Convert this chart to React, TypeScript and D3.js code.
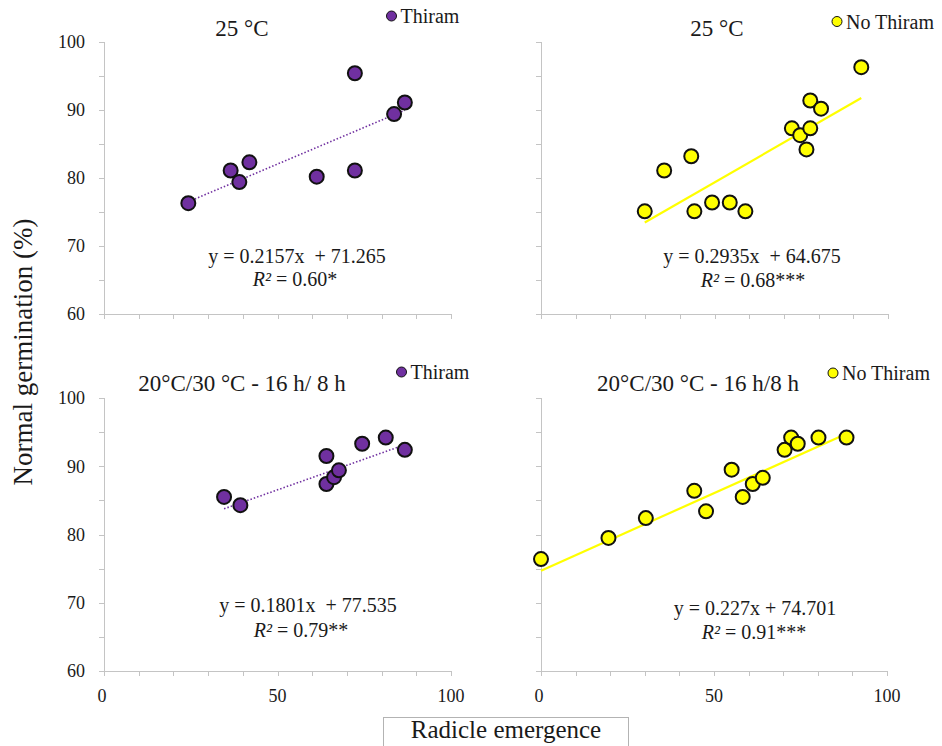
import React from "react";
import * as d3 from "d3";

// ---- Data ----
const thiram25X = [24.3, 36.5, 39.0, 41.9, 61.3, 72.3, 72.3, 83.6, 86.7];
const thiram25Y = [76.3, 81.1, 79.4, 82.3, 80.2, 81.1, 95.4, 89.4, 91.1];

const noThiram25X = [29.9, 35.5, 43.3, 44.2, 49.3, 54.4, 58.9, 72.3, 74.7, 77.6, 76.5, 77.6, 80.7, 92.3];
const noThiram25Y = [75.1, 81.1, 83.2, 75.1, 76.4, 76.4, 75.1, 87.3, 86.3, 87.3, 84.2, 91.4, 90.2, 96.3];

const thiramAltX = [34.6, 39.3, 64.1, 64.1, 66.3, 67.7, 74.4, 81.2, 86.7];
const thiramAltY = [85.5, 84.3, 91.5, 87.4, 88.4, 89.4, 93.3, 94.2, 92.4];

const noThiramAltX = [0, 19.5, 30.3, 44.3, 47.7, 55.1, 58.3, 61.2, 64.1, 70.4, 72.3, 74.2, 80.2, 88.3];
const noThiramAltY = [76.4, 79.5, 82.4, 86.4, 83.4, 89.5, 85.5, 87.4, 88.3, 92.4, 94.2, 93.3, 94.2, 94.2];

const slopes = [0.2157, 0.2935, 0.1801, 0.227];
const intercepts = [71.265, 64.675, 77.535, 74.701];
const eqTexts = ["y = 0.2157x  + 71.265", "y = 0.2935x  + 64.675", "y = 0.1801x  + 77.535", "y = 0.227x + 74.701"];
const r2Texts = [" = 0.60*", " = 0.68***", " = 0.79**", " = 0.91***"];
const titles = ["25 °C", "25 °C", "20°C/30 °C - 16 h/ 8 h", "20°C/30 °C - 16 h/8 h"];
const legendLabels = ["Thiram", "No Thiram", "Thiram", "No Thiram"];

const yTicks = [60, 70, 80, 90, 100];
const xTicks = [0, 50, 100];

// ---- Layout ----
const W = 942, H = 746;
const TXT = { fontFamily: "Liberation Serif" };
const PURPLE = "#7030A0";
const YELLOW = "#FFFF00";
const INK = "#1a1a1a";

type Panel = {
  xs: number[]; ys: number[]; color: string; dotted: boolean;
  x0: number; x1: number; y0: number; y1: number;
  showYLabels: boolean; showXLabels: boolean;
  titleX: number; titleY: number;
  legX: number; legY: number; legBase: number;
  eqX: number; eqY: number; r2X: number; r2Y: number;
};

const panels: Panel[] = [
  { xs: thiram25X, ys: thiram25Y, color: PURPLE, dotted: true, x0: 104, x1: 451, y0: 42, y1: 314,
    showYLabels: true, showXLabels: false, titleX: 242, titleY: 36, legX: 391.5, legY: 16, legBase: 23,
    eqX: 297, eqY: 263, r2X: 295, r2Y: 286 },
  { xs: noThiram25X, ys: noThiram25Y, color: YELLOW, dotted: false, x0: 541, x1: 888, y0: 42, y1: 314,
    showYLabels: false, showXLabels: false, titleX: 717, titleY: 36, legX: 837, legY: 21.5, legBase: 28.5,
    eqX: 752, eqY: 263, r2X: 753, r2Y: 287 },
  { xs: thiramAltX, ys: thiramAltY, color: PURPLE, dotted: true, x0: 104, x1: 451, y0: 398, y1: 671,
    showYLabels: true, showXLabels: true, titleX: 242, titleY: 391, legX: 401.5, legY: 372, legBase: 379,
    eqX: 308, eqY: 612, r2X: 301, r2Y: 637 },
  { xs: noThiramAltX, ys: noThiramAltY, color: YELLOW, dotted: false, x0: 541, x1: 887, y0: 398, y1: 671,
    showYLabels: false, showXLabels: true, titleX: 698, titleY: 391, legX: 833, legY: 373, legBase: 380,
    eqX: 755, eqY: 615, r2X: 754, r2Y: 639 },
];

function PanelView({ p, i }: { p: Panel; i: number }) {
  const x = d3.scaleLinear().domain([0, 100]).range([p.x0, p.x1]);
  const y = d3.scaleLinear().domain([60, 100]).range([p.y1, p.y0]);
  const minorY = d3.range(60, 100.1, 5);
  const minorX = d3.range(0, 100.1, 10);
  const xmin = d3.min(p.xs) as number;
  const xmax = d3.max(p.xs) as number;
  const line = d3.line<number>().x((v) => x(v)).y((v) => y(slopes[i] * v + intercepts[i]));
  const axisColor = "#c4c4c4";
  return (
    <g>
      <line x1={p.x0 + 0.5} x2={p.x0 + 0.5} y1={p.y0} y2={p.y1} stroke={axisColor} strokeWidth={1} />
      <line x1={p.x0} x2={p.x1} y1={p.y1 + 0.5} y2={p.y1 + 0.5} stroke={axisColor} strokeWidth={1} />
      {minorY.map((t) => (
        <line key={"yt" + t} x1={p.x0 - 5} x2={p.x0} y1={Math.round(y(t)) + 0.5} y2={Math.round(y(t)) + 0.5} stroke={axisColor} strokeWidth={1} />
      ))}
      {minorX.map((t) => (
        <line key={"xt" + t} x1={Math.round(x(t)) + 0.5} x2={Math.round(x(t)) + 0.5} y1={p.y1} y2={p.y1 + 5} stroke={axisColor} strokeWidth={1} />
      ))}
      {p.showYLabels && yTicks.map((t) => (
        <text key={"yl" + t} x={p.x0 - 19} y={y(t)} dy="0.35em" textAnchor="end" fontSize={18} style={TXT} fill={INK}>{t}</text>
      ))}
      {p.showXLabels && xTicks.map((t) => (
        <text key={"xl" + t} x={x(t) - (t === 0 ? 2 : 0)} y={p.y1 + 31} textAnchor="middle" fontSize={18} style={TXT} fill={INK}>{t}</text>
      ))}
      <path d={line([xmin, xmax]) || ""} fill="none" stroke={p.color}
        strokeWidth={p.dotted ? 1.6 : 2.2} strokeDasharray={p.dotted ? "1.5,2" : undefined} />
      {p.xs.map((v, k) => (
        <circle key={k} cx={x(v)} cy={y(p.ys[k])} r={7} fill={p.color} stroke="#111" strokeWidth={2} />
      ))}
      <text x={p.titleX} y={p.titleY} textAnchor="middle" fontSize={23} style={TXT} fill={INK}>{titles[i]}</text>
      <circle cx={p.legX} cy={p.legY} r={5} fill={p.color} stroke="#111" strokeWidth={1} />
      <text x={p.legX + 9} y={p.legBase} fontSize={20} style={TXT} fill={INK}>{legendLabels[i]}</text>
      <text x={p.eqX} y={p.eqY} textAnchor="middle" fontSize={20} style={{ ...TXT, whiteSpace: "pre" }} fill={INK}>{eqTexts[i]}</text>
      <text x={p.r2X} y={p.r2Y} textAnchor="middle" fontSize={20} style={TXT} fill={INK}>
        <tspan fontStyle="italic">R²</tspan>{r2Texts[i]}
      </text>
    </g>
  );
}

export default function App() {
  return (
    <svg width={W} height={H} style={{ position: "absolute", left: 0, top: 0, background: "#fff" }}>
      <rect x={0} y={0} width={W} height={H} fill="#fff" />
      {panels.map((p, i) => <PanelView key={i} p={p} i={i} />)}
      <text transform="translate(32,352) rotate(-90)" textAnchor="middle" fontSize={27} style={TXT} fill={INK}>Normal germination (%)</text>
      <rect x={383.5} y={717.5} width={245} height={34} fill="none" stroke="#666" strokeWidth={1} strokeDasharray="1,1" />
      <text x={506} y={738} textAnchor="middle" fontSize={25} style={TXT} fill={INK}>Radicle emergence</text>
    </svg>
  );
}
